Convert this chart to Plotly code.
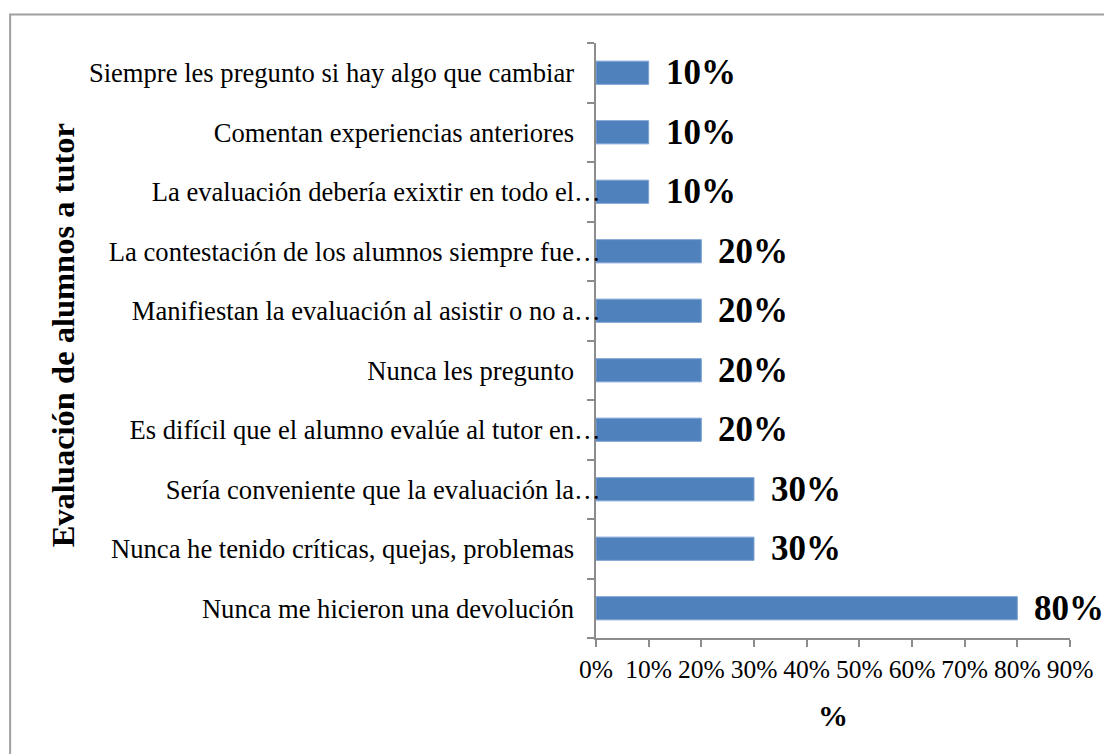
import plotly.graph_objects as go

# Categories, top to bottom as shown
categories = [
    "Siempre les pregunto si hay algo que cambiar",
    "Comentan experiencias anteriores",
    "La evaluación debería exixtir en todo el…",
    "La contestación de los alumnos siempre fue…",
    "Manifiestan la evaluación al asistir o no a…",
    "Nunca les pregunto",
    "Es difícil que el alumno evalúe al tutor en…",
    "Sería conveniente que la evaluación la…",
    "Nunca he tenido críticas, quejas, problemas",
    "Nunca me hicieron una devolución",
]
values = [0.10, 0.10, 0.10, 0.20, 0.20, 0.20, 0.20, 0.30, 0.30, 0.80]
x_ticks = [0.0, 0.1, 0.2, 0.3, 0.4, 0.5, 0.6, 0.7, 0.8, 0.9]
x_title = "%"
y_title = "Evaluación de alumnos a tutor"

FONT = "Liberation Serif, Times New Roman, serif"

# labels that are not truncated carry a trailing space in the original
tick_text = [c if c.endswith("…") else c + "\u2003" for c in categories]

fig = go.Figure()
fig.add_trace(go.Bar(
    x=values,
    y=categories,
    orientation="h",
    marker=dict(color="#4F81BD", line=dict(color="#7FA3D3", width=1)),
    hoverinfo="x+y",
))

for c, v in zip(categories, values):
    fig.add_annotation(
        x=v, y=c, xref="x", yref="y",
        text=f"<b>{v:.0%}</b>",
        showarrow=False, xanchor="left", yanchor="middle",
        xshift=15,
        font=dict(family=FONT, size=35, color="#000000"),
    )

fig.add_annotation(
    x=0.5, y=-0.131, xref="paper", yref="paper",
    text=f"<b>{x_title}</b>", showarrow=False,
    xanchor="center", yanchor="middle",
    font=dict(family=FONT, size=30, color="#000000"),
)
fig.add_annotation(
    x=-1.124, y=0.509, xref="paper", yref="paper",
    text=f"<b>{y_title}</b>", showarrow=False, textangle=-90,
    xanchor="center", yanchor="middle",
    font=dict(family=FONT, size=32.5, color="#000000"),
)

# outer chart border (right and bottom edges lie outside the visible area)
fig.add_shape(
    type="rect", xref="paper", yref="paper",
    x0=-1.236, x1=2.0, y0=-0.6, y1=1.048,
    line=dict(color="#A0A0A0", width=2), fillcolor="rgba(0,0,0,0)",
    layer="below",
)

fig.update_layout(
    width=1112, height=754,
    margin=dict(l=587.5, r=50, t=35, b=124, pad=0),
    paper_bgcolor="white", plot_bgcolor="white",
    bargap=0.61,
    showlegend=False,
    font=dict(family=FONT, color="#000000"),
)
fig.update_xaxes(
    range=[0, 0.9],
    tickvals=x_ticks,
    tickformat=".0%",
    ticks="outside", ticklen=7, tickcolor="#8C8C8C", tickwidth=2,
    showline=True, linecolor="#8C8C8C", linewidth=2,
    showgrid=False, zeroline=False,
    tickfont=dict(family=FONT, size=25.5, color="#000000"),
)
fig.update_yaxes(
    type="category",
    categoryorder="array", categoryarray=categories,
    autorange="reversed",
    tickvals=categories, ticktext=tick_text,
    tickson="boundaries",
    ticks="outside", ticklen=7, tickcolor="#8C8C8C", tickwidth=2,
    showline=True, linecolor="#8C8C8C", linewidth=2,
    showgrid=False, zeroline=False,
    tickfont=dict(family=FONT, size=26.6, color="#000000"),
    ticklabelstandoff=-12,
)

fig.write_html("out.html")
